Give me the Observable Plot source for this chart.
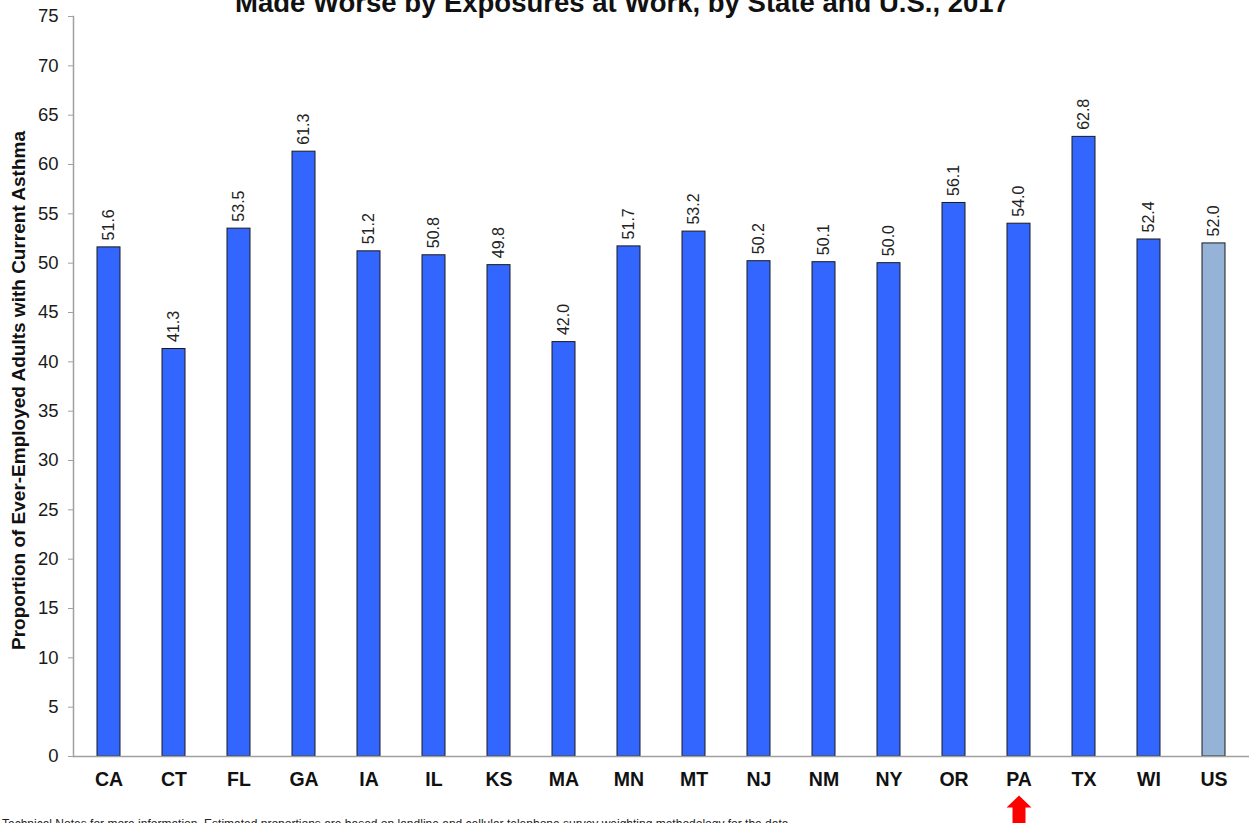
<!DOCTYPE html>
<html>
<head>
<meta charset="utf-8">
<script src="https://cdn.jsdelivr.net/npm/d3@7"></script>
<script src="https://cdn.jsdelivr.net/npm/@observablehq/plot@0.6"></script>
<style>
  html, body { margin: 0; padding: 0; background: #fff; }
  body { width: 1250px; height: 823px; position: relative; overflow: hidden; font-family: "Liberation Sans", Arial, sans-serif; }
  #title { position: absolute; left: 0; width: 1250px; top: -11px; text-align: center; font-weight: bold; font-size: 27.5px; line-height: 28px; color: #111; white-space: nowrap; }
  #title span { position: relative; left: -3px; }
  #note { position: absolute; left: 2px; top: 818px; font-size: 12px; line-height: 12px; color: #222; white-space: nowrap; }
  #chart { position: absolute; left: 0; top: 0; }
</style>
</head>
<body>
<div id="chart"></div>
<div id="title"><span>Made Worse by Exposures at Work, by State and U.S., 2017</span></div>
<div id="note">Technical Notes for more information. Estimated proportions are based on landline and cellular telephone survey weighting methodology for the data.</div>
<script>
const states = ["CA","CT","FL","GA","IA","IL","KS","MA","MN","MT","NJ","NM","NY","OR","PA","TX","WI","US"];
const values = [51.6, 41.3, 53.5, 61.3, 51.2, 50.8, 49.8, 42.0, 51.7, 53.2, 50.2, 50.1, 50.0, 56.1, 54.0, 62.8, 52.4, 52.0];
const yTicks = [0,5,10,15,20,25,30,35,40,45,50,55,60,65,70,75];
const yLabel = "Proportion of Ever-Employed Adults with Current Asthma";
const highlighted = ["PA"];
const nationalCategory = "US";

const data = states.map((s, i) => ({state: s, value: values[i]}));

const arrowSymbol = {
  draw(context) {
    context.moveTo(0, 0);
    context.lineTo(12.5, 12);
    context.lineTo(6.5, 12);
    context.lineTo(6.5, 32);
    context.lineTo(-6.5, 32);
    context.lineTo(-6.5, 12);
    context.lineTo(-12.5, 12);
    context.closePath();
  }
};

const chart = Plot.plot({
  width: 1250,
  height: 823,
  marginTop: 16,
  marginBottom: 67,
  marginLeft: 73,
  marginRight: 1,
  style: {fontFamily: "'Liberation Sans', Arial, sans-serif", background: "transparent", overflow: "visible"},
  x: {domain: states, paddingInner: 0.65, paddingOuter: 0.325, axis: null},
  y: {domain: [0, 75], axis: null},
  marks: [
    Plot.axisY({ticks: yTicks, tickSize: 5, tickFormat: () => "", color: "#a0a0a0", label: null}),
    Plot.axisY({ticks: yTicks, tickSize: 0, tickPadding: 15, fontSize: 18.5, color: "#1a1a1a", label: null}),
    Plot.frame({anchor: "left", stroke: "#a0a0a0", strokeWidth: 1.5}),
    Plot.barY(data, {
      x: "state", y: "value",
      fill: d => d.state === nationalCategory ? "#95B3D7" : "#3366FF",
      stroke: "#1a1a1a", strokeWidth: 1
    }),
    Plot.ruleY([0], {stroke: "#a0a0a0", strokeWidth: 1.5}),
    Plot.text(data, {
      x: "state", y: "value",
      text: d => d.value.toFixed(1),
      rotate: -90, textAnchor: "start", dy: -7,
      fontSize: 16, fill: "#222"
    }),
    Plot.axisX({tickSize: 0, tickPadding: 16, fontSize: 19.5, fontWeight: "bold", color: "#111", label: null}),
    Plot.text([yLabel], {
      frameAnchor: "left", textAnchor: "middle", rotate: -90, dx: -55, dy: 4,
      fontSize: 19, fontWeight: "bold", fill: "#111"
    }),
    Plot.dot(highlighted, {
      x: d => d, frameAnchor: "bottom", dy: 39,
      symbol: arrowSymbol, fill: "#ff0000", stroke: "none"
    })
  ]
});
document.getElementById("chart").appendChild(chart);
</script>
</body>
</html>
